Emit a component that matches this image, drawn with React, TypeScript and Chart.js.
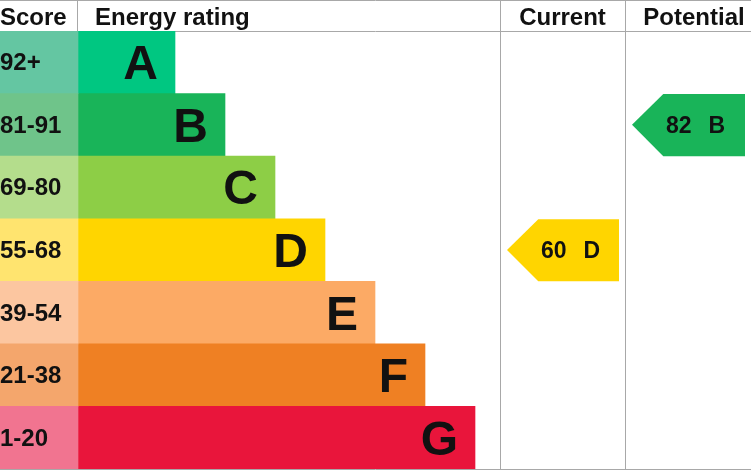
import { useEffect, useRef } from 'react';
import Chart from 'chart.js/auto';

const BANDS = ['A', 'B', 'C', 'D', 'E', 'F', 'G'];
const SCORE_RANGES = ['92+', '81-91', '69-80', '55-68', '39-54', '21-38', '1-20'];
const BAND_LENGTHS = [97, 147, 197, 247, 297, 347, 397];
const BAND_COLORS = ['#00c781', '#19b459', '#8dce46', '#ffd500', '#fcaa65', '#ef8023', '#e9153b'];
const SCORE_COLORS = ['#64c6a2', '#6fc48a', '#b4dd8c', '#ffe46f', '#fcc6a0', '#f4a66c', '#f17490'];
const HEADERS = ['Score', 'Energy rating', 'Current', 'Potential'];

const CURRENT_SCORE = 60;
const CURRENT_BAND = 'D';
const POTENTIAL_SCORE = 82;
const POTENTIAL_BAND = 'B';

// layout, in x-scale units (score column sits left of 0)
const SCORE_W = 78;
const X_MAX = 673;
const CURRENT_COL = [422, 547];
const POTENTIAL_COL = [547, 673];
const FONT = '"Liberation Sans", Arial, sans-serif';
const LINE = '#a8a8a8';

export default function App() {
  const canvasRef = useRef<HTMLCanvasElement | null>(null);

  useEffect(() => {
    let chart: Chart | null = null;

    const gridPlugin = {
      id: 'epcGrid',
      beforeDatasetsDraw(c: any) {
        const { ctx, chartArea: a, scales, width } = c;
        const x = scales.x;
        ctx.save();
        ctx.strokeStyle = LINE;
        ctx.lineWidth = 1;
        ctx.beginPath();
        ctx.moveTo(0, 0.5);
        ctx.lineTo(width, 0.5);
        ctx.moveTo(0, a.top + 0.5);
        ctx.lineTo(width, a.top + 0.5);
        ctx.moveTo(0, a.bottom + 0.5);
        ctx.lineTo(width, a.bottom + 0.5);
        const x0 = Math.round(x.getPixelForValue(0)) - 0.5;
        ctx.moveTo(x0, 0);
        ctx.lineTo(x0, a.top);
        [CURRENT_COL[0], POTENTIAL_COL[0]].forEach((v) => {
          const px = Math.round(x.getPixelForValue(v)) + 0.5;
          ctx.moveTo(px, 0);
          ctx.lineTo(px, a.bottom + 1);
        });
        ctx.stroke();
        ctx.restore();
      },
      afterDatasetsDraw(c: any) {
        const { ctx, chartArea: a, scales } = c;
        const x = scales.x;
        const y = scales.y;
        ctx.save();
        ctx.fillStyle = '#111';

        // header
        ctx.font = `bold 24px ${FONT}`;
        ctx.textBaseline = 'alphabetic';
        ctx.textAlign = 'left';
        ctx.fillText(HEADERS[0], 0, 25);
        ctx.fillText(HEADERS[1], x.getPixelForValue(17), 25);
        ctx.textAlign = 'center';
        ctx.fillText(HEADERS[2], (x.getPixelForValue(CURRENT_COL[0]) + x.getPixelForValue(CURRENT_COL[1])) / 2, 25);
        ctx.fillText(HEADERS[3], x.getPixelForValue(POTENTIAL_COL[0]) + 69, 25);

        // score ranges
        ctx.textAlign = 'left';
        ctx.font = `bold 24px ${FONT}`;
        SCORE_RANGES.forEach((s, i) => {
          ctx.fillText(s, 0, y.getPixelForValue(i) + 8);
        });

        // band letters
        const meta = c.getDatasetMeta(1);
        ctx.textAlign = 'right';
        ctx.font = `bold 48px ${FONT}`;
        BANDS.forEach((b, i) => {
          const bar = meta.data[i];
          ctx.fillText(b, bar.x - 17, bar.y + 17);
        });

        // rating arrows
        const rowH = (a.bottom - a.top) / BANDS.length;
        const arrow = (col: number[], score: number, band: string) => {
          const idx = BANDS.indexOf(band);
          const cy = y.getPixelForValue(idx);
          const left = x.getPixelForValue(col[0]) + 7;
          const right = x.getPixelForValue(col[1]) - 6;
          const top = cy - rowH / 2 + 0.5;
          const bottom = cy + rowH / 2;
          ctx.fillStyle = BAND_COLORS[idx];
          ctx.beginPath();
          ctx.moveTo(left, cy);
          ctx.lineTo(left + rowH / 2, top);
          ctx.lineTo(right, top);
          ctx.lineTo(right, bottom);
          ctx.lineTo(left + rowH / 2, bottom);
          ctx.closePath();
          ctx.fill();
          ctx.fillStyle = '#111';
          ctx.font = `bold 23px ${FONT}`;
          ctx.textAlign = 'left';
          ctx.fillText(String(score), left + 34, cy + 8);
          ctx.textAlign = 'right';
          ctx.fillText(band, left + 93, cy + 8);
        };
        arrow(CURRENT_COL, CURRENT_SCORE, CURRENT_BAND);
        arrow(POTENTIAL_COL, POTENTIAL_SCORE, POTENTIAL_BAND);

        ctx.restore();
      }
    };

    if (canvasRef.current) {
      chart = new Chart(canvasRef.current, {
        type: 'bar',
        data: {
          labels: BANDS,
          datasets: [
            {
              data: BANDS.map(() => [-SCORE_W, 0]) as any,
              backgroundColor: SCORE_COLORS,
              borderWidth: 0,
              barPercentage: 1,
              categoryPercentage: 1,
              grouped: false
            },
            {
              data: BAND_LENGTHS.map((v) => [0, v]) as any,
              backgroundColor: BAND_COLORS,
              borderWidth: 0,
              barPercentage: 1,
              categoryPercentage: 1,
              grouped: false
            }
          ]
        },
        options: {
          indexAxis: 'y',
          responsive: true,
          maintainAspectRatio: false,
          animation: false,
          layout: {
            padding: { top: 31, bottom: 6, left: 0, right: 0 }
          },
          plugins: {
            legend: { display: false },
            tooltip: { enabled: false }
          },
          scales: {
            x: { type: 'linear', min: -SCORE_W, max: X_MAX, display: false },
            y: { display: false }
          }
        },
        plugins: [gridPlugin]
      });
    }

    return () => {
      if (chart) chart.destroy();
    };
  }, []);

  return (
    <div style={{ position: 'fixed', left: 0, top: 0, width: 751, height: 475, background: '#fff' }}>
      <canvas ref={canvasRef}></canvas>
    </div>
  );
}
